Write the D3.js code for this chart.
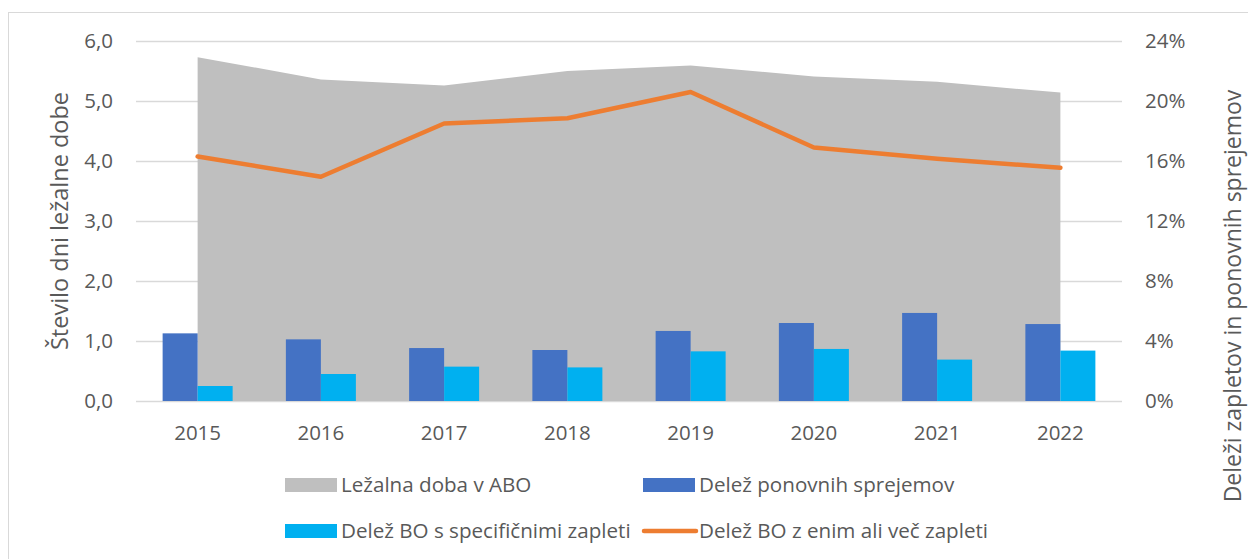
<!DOCTYPE html>
<html>
<head>
<meta charset="utf-8">
<script src="https://cdn.jsdelivr.net/npm/d3@7"></script>
<style>
  html, body { margin: 0; padding: 0; background: #fff; }
  svg { display: block; font-family: "Open Sans", sans-serif; }
</style>
</head>
<body>
<svg id="chart" width="1248" height="559"></svg>
<script>
// Categories and series
const years = ["2015", "2016", "2017", "2018", "2019", "2020", "2021", "2022"];
const lezalnaDoba = [5.73, 5.36, 5.26, 5.50, 5.59, 5.41, 5.32, 5.14];          // days
const ponovniSprejemi = [4.51, 4.11, 3.53, 3.40, 4.67, 5.20, 5.87, 5.13];      // %
const specificniZapleti = [1.00, 1.80, 2.29, 2.24, 3.31, 3.47, 2.76, 3.36];    // %
const enimAliVecZapleti = [16.30, 14.95, 18.50, 18.85, 20.60, 16.90, 16.15, 15.55]; // %

// Tick values
const leftTicks = [0, 1, 2, 3, 4, 5, 6];
const rightTicks = [0, 4, 8, 12, 16, 20, 24];

// Labels
const leftTitle = "Število dni ležalne dobe";
const rightTitle = "Deleži zapletov in ponovnih sprejemov";
const seriesNames = [
  "Ležalna doba v ABO",
  "Delež ponovnih sprejemov",
  "Delež BO s specifičnimi zapleti",
  "Delež BO z enim ali več zapleti"
];

const colors = {
  area: "#bfbfbf",
  dark: "#4472c4",
  light: "#00b0f0",
  line: "#ed7d31",
  grid: "#d9d9d9",
  text: "#595959"
};

const svg = d3.select("#chart");
const plot = { left: 136, right: 1122, top: 41, bottom: 401 };

const x = d3.scaleBand().domain(years).range([plot.left, plot.right]);
const yL = d3.scaleLinear().domain([0, 6]).range([plot.bottom, plot.top]);
const yR = d3.scaleLinear().domain([0, 24]).range([plot.bottom, plot.top]);
const sub = d3.scaleBand().domain(["ponovni", "specificni"]).range([0, 70]);
const cx = d => x(d) + x.bandwidth() / 2;

// Outer chart frame
svg.append("rect")
  .attr("x", 8.5).attr("y", 12.5)
  .attr("width", 1300).attr("height", 700)
  .attr("fill", "none").attr("stroke", colors.grid).attr("stroke-width", 1);

// Horizontal gridlines
svg.append("g")
  .selectAll("line").data(leftTicks).join("line")
  .attr("x1", plot.left).attr("x2", plot.right)
  .attr("y1", d => Math.round(yL(d)) + 0.5).attr("y2", d => Math.round(yL(d)) + 0.5)
  .attr("stroke", colors.grid).attr("stroke-width", 1.5);

// Length of stay area (left axis)
const area = d3.area()
  .x((d, i) => cx(years[i]))
  .y0(yL(0))
  .y1(d => yL(d));
svg.append("path").datum(lezalnaDoba)
  .attr("d", area).attr("fill", colors.area);

// Grouped bars (right axis)
const barG = svg.append("g");
barG.selectAll("rect.p").data(ponovniSprejemi).join("rect")
  .attr("class", "p")
  .attr("x", (d, i) => cx(years[i]) - 35 + sub("ponovni"))
  .attr("width", sub.bandwidth())
  .attr("y", d => yR(d)).attr("height", d => yR(0) - yR(d))
  .attr("fill", colors.dark);
barG.selectAll("rect.s").data(specificniZapleti).join("rect")
  .attr("class", "s")
  .attr("x", (d, i) => cx(years[i]) - 35 + sub("specificni"))
  .attr("width", sub.bandwidth())
  .attr("y", d => yR(d)).attr("height", d => yR(0) - yR(d))
  .attr("fill", colors.light);

// Complications line (right axis)
const line = d3.line()
  .x((d, i) => cx(years[i]))
  .y(d => yR(d));
svg.append("path").datum(enimAliVecZapleti)
  .attr("d", line).attr("fill", "none")
  .attr("stroke", colors.line).attr("stroke-width", 4.5)
  .attr("stroke-linejoin", "round").attr("stroke-linecap", "round");

// Left axis labels
const fmtL = d => d3.format(".1f")(d).replace(".", ",");
svg.append("g")
  .selectAll("text").data(leftTicks).join("text")
  .attr("x", 113).attr("y", d => yL(d))
  .attr("dy", "0.36em")
  .attr("text-anchor", "end")
  .attr("font-size", 20.5).attr("fill", colors.text)
  .text(fmtL);

// Right axis labels
svg.append("g")
  .selectAll("text").data(rightTicks).join("text")
  .attr("x", 1145).attr("y", d => yR(d))
  .attr("dy", "0.36em")
  .attr("text-anchor", "start")
  .attr("font-size", 20.5).attr("fill", colors.text)
  .text(d => d + "%");

// Category labels
svg.append("g")
  .selectAll("text").data(years).join("text")
  .attr("x", d => cx(d)).attr("y", 440)
  .attr("text-anchor", "middle")
  .attr("font-size", 20.5).attr("fill", colors.text)
  .text(d => d);

// Axis titles
svg.append("text")
  .attr("transform", "translate(60,221) rotate(-90)")
  .attr("text-anchor", "middle").attr("dy", "0.36em")
  .attr("font-size", 23.5).attr("fill", colors.text)
  .text(leftTitle);
svg.append("text")
  .attr("transform", "translate(1233,296) rotate(-90)")
  .attr("text-anchor", "middle").attr("dy", "0.36em")
  .attr("font-size", 23).attr("fill", colors.text)
  .text(rightTitle);

// Legend
const legendItems = [
  { name: seriesNames[0], type: "rect", color: colors.area, x: 285, y: 485 },
  { name: seriesNames[1], type: "rect", color: colors.dark, x: 643, y: 485 },
  { name: seriesNames[2], type: "rect", color: colors.light, x: 285, y: 531 },
  { name: seriesNames[3], type: "line", color: colors.line, x: 643, y: 531 }
];
const lg = svg.append("g").selectAll("g").data(legendItems).join("g")
  .attr("transform", d => `translate(${d.x},${d.y})`);
lg.filter(d => d.type === "rect").append("rect")
  .attr("x", 0).attr("y", -7).attr("width", 52).attr("height", 14)
  .attr("fill", d => d.color);
lg.filter(d => d.type === "line").append("line")
  .attr("x1", 1).attr("x2", 53).attr("y1", 0).attr("y2", 0)
  .attr("stroke", d => d.color).attr("stroke-width", 4.5)
  .attr("stroke-linecap", "round");
lg.append("text")
  .attr("x", 56).attr("y", 0).attr("dy", "0.36em")
  .attr("font-size", 20.6).attr("fill", colors.text)
  .text(d => d.name);
</script>
</body>
</html>
